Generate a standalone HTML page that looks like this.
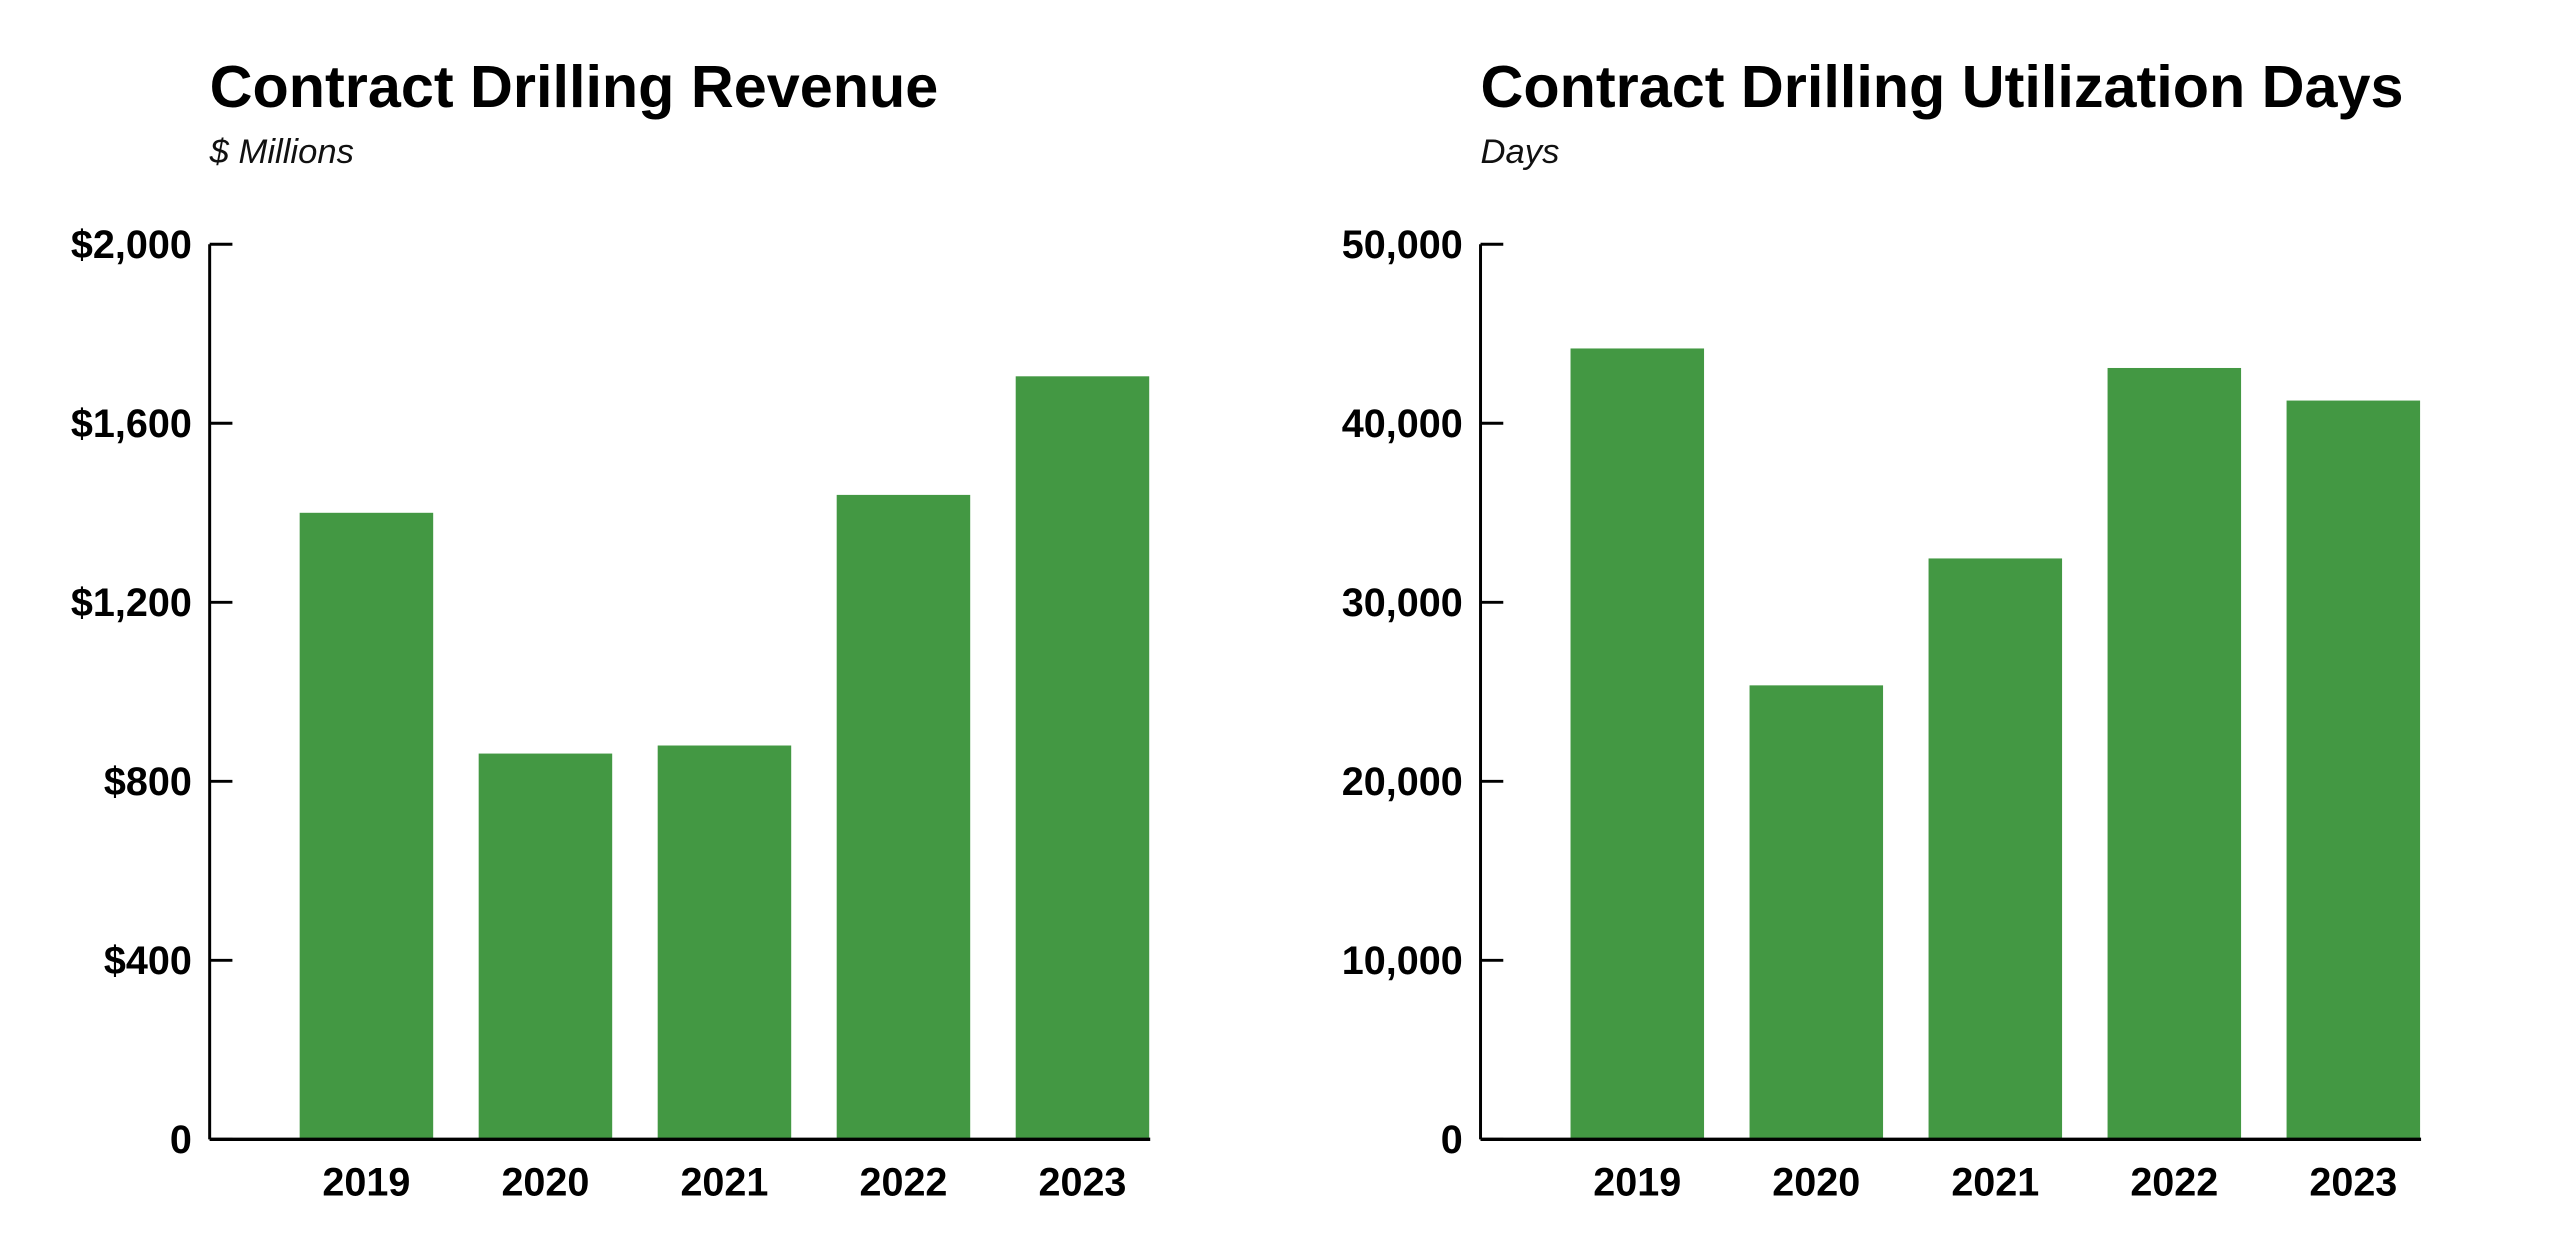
<!DOCTYPE html>
<html><head><meta charset="utf-8"><style>
html,body{margin:0;padding:0;background:#fff;}
svg{display:block;font-family:"Liberation Sans",Arial,sans-serif;}
</style></head><body>
<svg width="2550" height="1239" viewBox="0 0 2550 1239"><g id="svg" transform="scale(0.989)"></g></svg>
<script>
const categories = ["2019","2020","2021","2022","2023"];
const revenueValues = [1400, 862, 880, 1440, 1705];
const revenueTicks = [0, 400, 800, 1200, 1600, 2000];
const revenueTickLabels = ["0","$400","$800","$1,200","$1,600","$2,000"];
const daysValues = [44180, 25360, 32450, 43090, 41270];
const daysTicks = [0, 10000, 20000, 30000, 40000, 50000];
const daysTickLabels = ["0","10,000","20,000","30,000","40,000","50,000"];

const NS = "http://www.w3.org/2000/svg";
const svg = document.getElementById('svg');
function mk(tag, attrs, parent){ const e=document.createElementNS(NS,tag); for(const k in attrs) e.setAttribute(k,attrs[k]); (parent||svg).appendChild(e); return e; }

function drawChart(ox, title, subtitle, values, ticks, tickLabels, max, key){
  const g = mk('g',{});
  
  
  const top=247, bottom=1152, axisX=ox, right=ox+951;
  const y = v => bottom - (v/max)*(bottom-top);
  const barStart = ox+91, step=181, bw=135;
  const t = mk('text',{x:ox,y:108,'font-size':60,'font-weight':'bold',fill:'#000'},g);
  t.textContent=title;
  
  
  const s = mk('text',{x:ox,y:165,'font-size':35,'font-style':'italic',fill:'#111'},g);
  s.textContent=subtitle;
  
  
  values.forEach((v,i)=>{
    const r = mk('rect',{x:barStart+i*step,y:y(v),width:bw,height:bottom-y(v),fill:'#439843'},g);
    
    
    const l = mk('text',{x:barStart+i*step+bw/2,y:1209,'font-size':40,'font-weight':'bold','text-anchor':'middle',fill:'#000'},g);
    l.textContent=categories[i];
    
    
  });
  ticks.forEach((tv,i)=>{
    const ln = mk('line',{x1:axisX,x2:axisX+23,y1:y(tv),y2:y(tv),stroke:'#000','stroke-width':3},g);
    
    
    const tl = mk('text',{x:axisX-18,y:y(tv)+14,'font-size':40,'font-weight':'bold','text-anchor':'end',fill:'#000'},g);
    tl.textContent=tickLabels[i];
    
    
  });
  const ya = mk('line',{x1:axisX,x2:axisX,y1:top,y2:bottom,stroke:'#000','stroke-width':3},g);
  
  
  const xa = mk('line',{x1:axisX,x2:right,y1:bottom,y2:bottom,stroke:'#000','stroke-width':3.5},g);
  
  
}
drawChart(212, "Contract Drilling Revenue", "$ Millions", revenueValues, revenueTicks, revenueTickLabels, 2000, 'revenue');
drawChart(1497, "Contract Drilling Utilization Days", "Days", daysValues, daysTicks, daysTickLabels, 50000, 'days');
</script>
</body></html>
